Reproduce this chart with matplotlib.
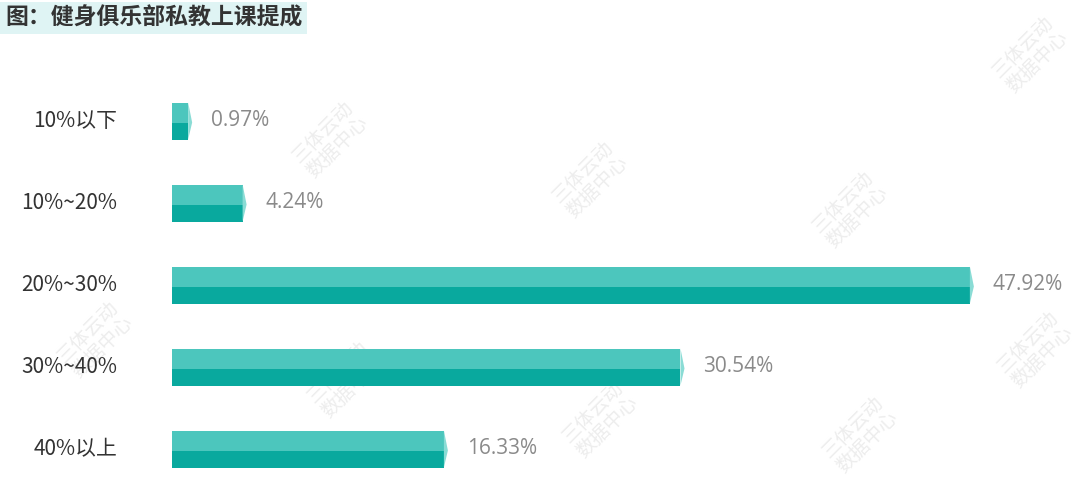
import matplotlib
matplotlib.use('Agg')
from matplotlib import pyplot as plt
from matplotlib.patches import Polygon, Rectangle

plt.rcParams['font.family'] = ['Noto Sans CJK SC', 'DejaVu Sans']

categories = ['10%以下', '10%~20%', '20%~30%', '30%~40%', '40%以上']
values = [0.97, 4.24, 47.92, 30.54, 16.33]
title = '图：健身俱乐部私教上课提成'

light = '#4cc6bd'
dark = '#09a99e'
edge = '#8adcd5'

fig = plt.figure(figsize=(10.8, 4.83), dpi=100)
ax = fig.add_axes([172 / 1080, 0, 1 - 172 / 1080, 1])
ax.set_xlim(0, (1080 - 172) / 16.65)
ax.set_ylim(4 + 34 / 82, -121 / 82)
ax.axis('off')

h = 37 / 82
h_top = 20 / 82
dx = 4 / 16.65
for i, (cat, v) in enumerate(zip(categories, values)):
    top = i - h / 2
    mid = top + h_top
    bot = i + h / 2
    ax.add_patch(Rectangle((0, top), v, h_top, color=light, lw=0))
    ax.add_patch(Rectangle((0, mid), v, bot - mid, color=dark, lw=0))
    ax.add_patch(Polygon([(v, top), (v + dx, mid), (v, bot)], closed=True, color=edge, lw=0))
    ax.text(-55 / 16.65, i, cat, ha='right', va='center', fontsize=15, color='#333333')
    ax.text(v + 23 / 16.65, i, f'{v:.2f}%', ha='left', va='center', fontsize=15,
            color='#8a8a8a', family=['Open Sans', 'DejaVu Sans'])

# watermark, behind the bars
for x, y in [(330, 140), (590, 180), (850, 210), (1035, 350), (1030, 55),
             (95, 340), (345, 380), (600, 420), (860, 435)]:
    fig.text(x / 1080, 1 - y / 483, '三体云动\n数据中心', rotation=45, ha='center', va='center',
             fontsize=14, color='#ededed', zorder=-1, linespacing=1.0)

fig.text(5 / 1080, 1 - 18 / 483, title, ha='left', va='center', fontsize=16.5, fontweight='bold',
         color='#333333', bbox=dict(boxstyle='square,pad=0.2', fc='#dff4f4', ec='none'))

fig.savefig('out.png', dpi=100)
